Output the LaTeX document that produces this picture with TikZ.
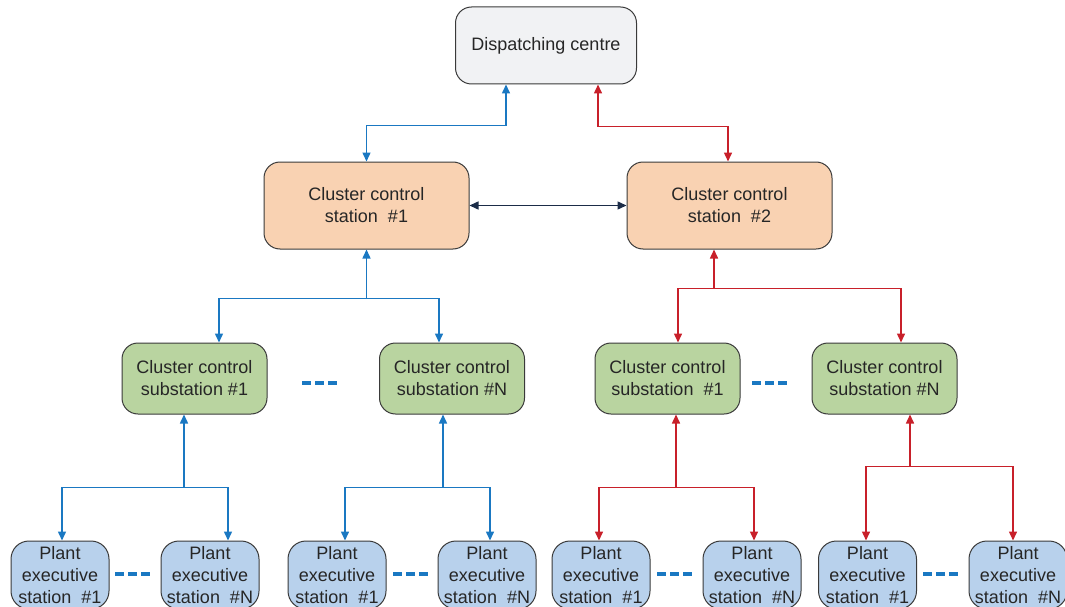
\documentclass[tikz,border=0pt]{standalone}
\usepackage{fontspec}
\setmainfont{Liberation Sans}
\usepackage{tikz}
\usetikzlibrary{arrows.meta,calc}

\definecolor{dispgrey}{HTML}{F1F2F4}
\definecolor{peach}{HTML}{F9D2B2}
\definecolor{subgreen}{HTML}{B9D4A0}
\definecolor{plantblue}{HTML}{B8D1EC}
\definecolor{linkblue}{HTML}{1A78C2}
\definecolor{linkred}{HTML}{C8202A}
\definecolor{linknavy}{HTML}{1B2C48}
\definecolor{boxline}{HTML}{3A3A3A}

\begin{document}
\begin{tikzpicture}[x=1pt, y=-1pt, >={Triangle[length=9pt,width=8pt]},
    box/.style={draw=boxline, line width=1pt, rounded corners=16pt, align=center,
        inner sep=0pt, text=black!85, font=\fontsize{18}{22}\selectfont},
    dispbox/.style={box, fill=dispgrey, minimum width=181pt, minimum height=77pt},
    ccsbox/.style={box, fill=peach, minimum width=205pt, minimum height=87pt},
    subbox/.style={box, fill=subgreen, minimum width=145pt, minimum height=71pt},
    plantbox/.style={box, fill=plantblue, rounded corners=18pt, minimum width=98pt, minimum height=68pt},
    bline/.style={draw=linkblue, line width=1.5pt},
    rline/.style={draw=linkred, line width=1.5pt},
    nline/.style={draw=linknavy, line width=1.5pt},
    more/.style={draw=linkblue, line width=4.5pt, dash pattern=on 9pt off 4pt}]
    \useasboundingbox (0,0) rectangle (1065,607);
    \clip (0,0) rectangle (1065,607);

    % Dispatching centre and cluster stations
    \node[dispbox] (disp) at (546, 45.5) {Dispatching centre};
    \node[ccsbox] (ccs1) at (366.5, 205.5) {Cluster control\\station~~\#1};
    \node[ccsbox] (ccs2) at (729.5, 205.5) {Cluster control\\station~~\#2};

    % Substations
    \node[subbox] (subA1) at (194.5, 378.5) {Cluster control\\substation \#1};
    \node[subbox] (subAN) at (452, 378.5) {Cluster control\\substation \#N};
    \node[subbox] (subB1) at (667.5, 378.5) {Cluster control\\substation~~\#1};
    \node[subbox] (subBN) at (884.5, 378.5) {Cluster control\\substation \#N};

    % Plant executive stations
    \node[plantbox] (pA1) at (60, 575) {Plant\\executive\\station~~\#1};
    \node[plantbox] (pAN) at (210, 575) {Plant\\executive\\station~~\#N};
    \node[plantbox] (pB1) at (337, 575) {Plant\\executive\\station~~\#1};
    \node[plantbox] (pBN) at (487, 575) {Plant\\executive\\station~~\#N};
    \node[plantbox] (pC1) at (601, 575) {Plant\\executive\\station~~\#1};
    \node[plantbox] (pCN) at (752, 575) {Plant\\executive\\station~~\#N};
    \node[plantbox] (pD1) at (867.5, 575) {Plant\\executive\\station~~\#1};
    \node[plantbox] (pDN) at (1018, 575) {Plant\\executive\\station~~\#N};

    % Links to the dispatching centre
    \draw[bline, <->] (ccs1.north) -- ++(0,-36) -| ([xshift=-40pt]disp.south);
    \draw[rline, <->] ([xshift=52pt]disp.south) -- ++(0,42) -| ([xshift=-1.5pt]ccs2.north);
    \draw[nline, <->] (ccs1.east) -- (ccs2.west);

    % Cluster 1 tree
    \draw[bline, <-] (ccs1.south) -- ++(0,49) coordinate (jA);
    \draw[bline, ->] (jA) -| ([xshift=24.5pt]subA1.north);
    \draw[bline, ->] (jA) -| ([xshift=-13pt]subAN.north);
    \draw[bline, <-] ([xshift=-10.5pt]subA1.south) -- ++(0,73) coordinate (jA1);
    \draw[bline, ->] (jA1) -| ([xshift=2pt]pA1.north);
    \draw[bline, ->] (jA1) -| ([xshift=18pt]pAN.north);
    \draw[bline, <-] ([xshift=-9pt]subAN.south) -- ++(0,73) coordinate (jAN);
    \draw[bline, ->] (jAN) -| ([xshift=8pt]pB1.north);
    \draw[bline, ->] (jAN) -| ([xshift=3pt]pBN.north);

    % Cluster 2 tree
    \draw[rline, <-] ([xshift=-15.5pt]ccs2.south) -- ++(0,39) coordinate (jB);
    \draw[rline, ->] (jB) -| ([xshift=10.5pt]subB1.north);
    \draw[rline, ->] (jB) -| ([xshift=16.5pt]subBN.north);
    \draw[rline, <-] ([xshift=8.5pt]subB1.south) -- ++(0,73) coordinate (jB1);
    \draw[rline, ->] (jB1) -| ([xshift=-2pt]pC1.north);
    \draw[rline, ->] (jB1) -| ([xshift=2pt]pCN.north);
    \draw[rline, <-] ([xshift=25.5pt]subBN.south) -- ++(0,52) coordinate (jBN);
    \draw[rline, ->] (jBN) -| ([xshift=-1.5pt]pD1.north);
    \draw[rline, ->] (jBN) -| ([xshift=-5pt]pDN.north);

    % Ellipses
    \draw[more] (302, 383) -- (337, 383);
    \draw[more] (752, 383) -- (788, 383);
    \draw[more] (115, 574) -- (150, 574);
    \draw[more] (393, 574) -- (428, 574);
    \draw[more] (657, 574) -- (692, 574);
    \draw[more] (923, 574) -- (958, 574);
\end{tikzpicture}
\end{document}
